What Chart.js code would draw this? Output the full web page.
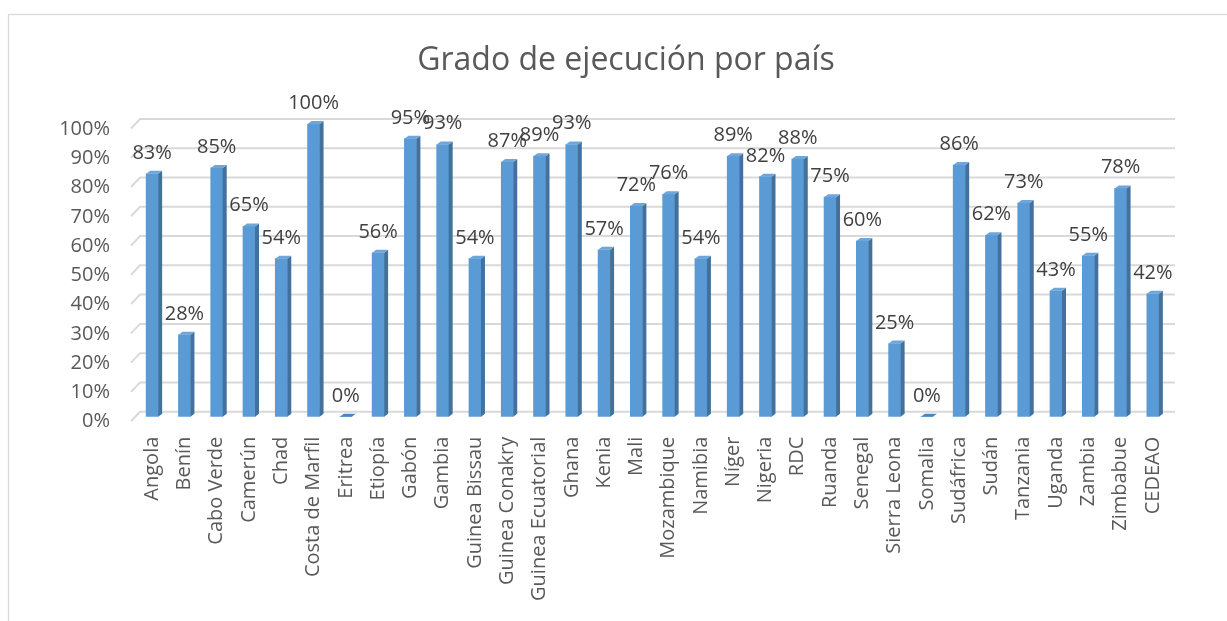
<!DOCTYPE html>
<html>
<head>
<meta charset="utf-8">
<title>Grado de ejecución por país</title>
<script src="https://cdn.jsdelivr.net/npm/chart.js@4"></script>
<style>
  html, body { margin: 0; padding: 0; background: #fff; }
</style>
</head>
<body>
<canvas id="gradoChart" width="1227" height="621"></canvas>
<script>
// Datos
const titulo = "Grado de ejecución por país";
const paises = ["Angola", "Benín", "Cabo Verde", "Camerún", "Chad", "Costa de Marfil", "Eritrea", "Etiopía",
    "Gabón", "Gambia", "Guinea Bissau", "Guinea Conakry", "Guinea Ecuatorial", "Ghana", "Kenia", "Mali",
    "Mozambique", "Namibia", "Níger", "Nigeria", "RDC", "Ruanda", "Senegal", "Sierra Leona", "Somalia",
    "Sudáfrica", "Sudán", "Tanzania", "Uganda", "Zambia", "Zimbabue", "CEDEAO"];
const ejecucion = [83, 28, 85, 65, 54, 100, 0, 56, 95, 93, 54, 87, 89, 93, 57, 72,
    76, 54, 89, 82, 88, 75, 60, 25, 0, 86, 62, 73, 43, 55, 78, 42];
const yTicks = [0, 10, 20, 30, 40, 50, 60, 70, 80, 90, 100];

const FONT = '"Open Sans", "Liberation Sans", sans-serif';

// Marco gris y título (el gráfico original está recortado a la derecha)
const marco = {
    id: "marco",
    beforeDraw(chart) {
        const ctx = chart.ctx;
        ctx.save();
        ctx.strokeStyle = "#D9D9D9";
        ctx.lineWidth = 1.3;
        ctx.strokeRect(8.5, 14.5, 1400, 800);
        ctx.fillStyle = "#595959";
        ctx.font = "32px " + FONT;
        ctx.textAlign = "center";
        ctx.textBaseline = "alphabetic";
        ctx.fillText(titulo, 626, 70);
        ctx.restore();
    }
};

// Líneas de cuadrícula con el pliegue 3D a la izquierda
const cuadricula = {
    id: "cuadricula",
    beforeDatasetsDraw(chart) {
        const ctx = chart.ctx;
        const y = chart.scales.y;
        const { left, right } = chart.chartArea;
        ctx.save();
        ctx.strokeStyle = "#D9D9D9";
        ctx.lineWidth = 2;
        yTicks.forEach(v => {
            const py = y.getPixelForValue(v) - 5;
            ctx.beginPath();
            ctx.moveTo(left - 5, py + 9.5);
            ctx.lineTo(left + 4, py);
            ctx.lineTo(right + 6, py);
            ctx.stroke();
        });
        ctx.restore();
    }
};

// Caras laterales / superiores y etiquetas de datos
const barras3d = {
    id: "barras3d",
    afterDatasetsDraw(chart) {
        const ctx = chart.ctx;
        const meta = chart.getDatasetMeta(0);
        const dx = 4, dy = 3;
        ctx.save();
        meta.data.forEach((bar, i) => {
            const { x, y, base, width } = bar.getProps(["x", "y", "base", "width"], true);
            const l = x - width / 2, r = x + width / 2;
            // lateral
            ctx.fillStyle = "#41719C";
            ctx.beginPath();
            ctx.moveTo(r, y);
            ctx.lineTo(r + dx, y - dy);
            ctx.lineTo(r + dx, base - dy);
            ctx.lineTo(r, base);
            ctx.closePath();
            ctx.fill();
            // superior
            ctx.fillStyle = ejecucion[i] === 0 ? "#4A86BE" : "#6FA6DA";
            ctx.beginPath();
            ctx.moveTo(l, y);
            ctx.lineTo(l + dx, y - dy);
            ctx.lineTo(r + dx, y - dy);
            ctx.lineTo(r, y);
            ctx.closePath();
            ctx.fill();
        });
        ctx.fillStyle = "#404040";
        ctx.font = "20px " + FONT;
        ctx.textAlign = "center";
        ctx.textBaseline = "alphabetic";
        meta.data.forEach((bar, i) => {
            const { x, y } = bar.getProps(["x", "y"], true);
            ctx.fillText(ejecucion[i] + "%", x, y - 15);
        });
        ctx.restore();
    }
};

const ctx = document.getElementById("gradoChart").getContext("2d");
new Chart(ctx, {
    type: "bar",
    data: {
        labels: paises,
        datasets: [{
            data: ejecucion,
            backgroundColor: "#5B9BD5",
            borderWidth: 0,
            barThickness: 12
        }]
    },
    options: {
        responsive: false,
        animation: false,
        layout: { padding: { left: 20, right: 58, top: 124, bottom: 0 } },
        plugins: {
            legend: { display: false },
            tooltip: { enabled: false },
            title: { display: false }
        },
        scales: {
            x: {
                grid: { display: false, drawTicks: false },
                border: { display: false },
                ticks: {
                    autoSkip: false,
                    maxRotation: 90,
                    minRotation: 90,
                    padding: 20,
                    color: "#595959",
                    font: { family: FONT, size: 20 }
                },
                afterFit(scale) { scale.height = 204.3; }
            },
            y: {
                min: 0,
                max: 100,
                grid: { display: false, drawTicks: false },
                border: { display: false },
                ticks: {
                    stepSize: 10,
                    padding: 26,
                    labelOffset: 5,
                    color: "#595959",
                    font: { family: FONT, size: 20 },
                    callback: v => v + "%"
                },
                afterFit(scale) { scale.width = 116; }
            }
        }
    },
    plugins: [marco, cuadricula, barras3d]
});
</script>
</body>
</html>
